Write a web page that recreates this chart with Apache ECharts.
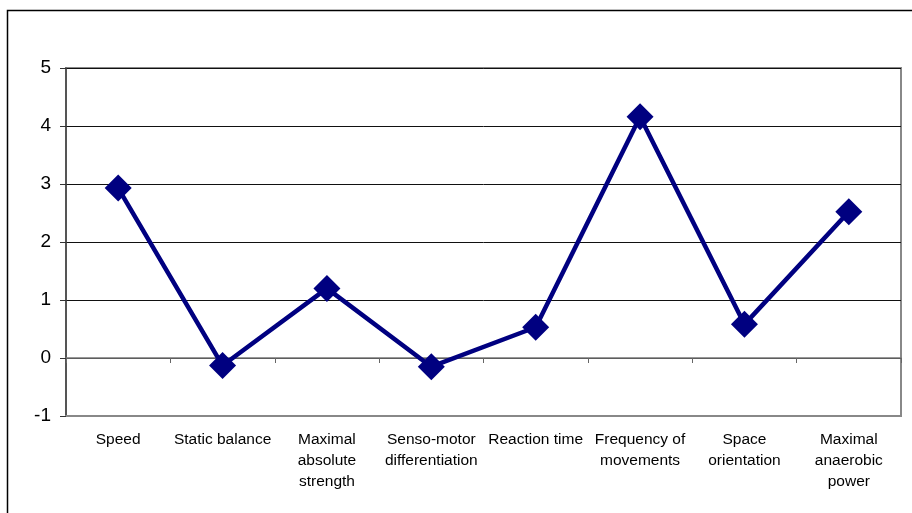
<!DOCTYPE html>
<html>
<head>
<meta charset="utf-8">
<script src="https://cdn.jsdelivr.net/npm/echarts@6/dist/echarts.min.js"></script>
<style>
  html, body { margin: 0; padding: 0; background: #fff; }
  #chart { width: 912px; height: 513px; }
</style>
</head>
<body>
<div id="chart"></div>
<script>
// Motor ability categories (line breaks as shown under the axis)
const categories = [
  'Speed',
  'Static balance',
  'Maximal\nabsolute\nstrength',
  'Senso-motor\ndifferentiation',
  'Reaction time',
  'Frequency of\nmovements',
  'Space\norientation',
  'Maximal\nanaerobic\npower'
];

// Score for each ability
const scores = [2.93, -0.13, 1.20, -0.15, 0.53, 4.16, 0.58, 2.52];

// Value axis range and step
const yMin = -1;
const yMax = 5;
const yStep = 1;

const navy = '#000080';
const font = 'Arial, "Liberation Sans", sans-serif';

const chart = echarts.init(document.getElementById('chart'), null, { renderer: 'canvas' });

chart.setOption({
  animation: false,
  backgroundColor: '#fff',
  graphic: [{
    type: 'rect',
    silent: true,
    shape: { x: 7.5, y: 10.5, width: 1000, height: 1000 },
    style: { fill: 'none', stroke: '#000', lineWidth: 1.5 }
  }],
  grid: {
    left: 66, right: 11, top: 68, bottom: 97,
    show: true,
    borderColor: '#888',
    borderWidth: 2,
    backgroundColor: '#fff'
  },
  xAxis: [{
    type: 'category',
    data: categories,
    position: 'bottom',
    boundaryGap: true,
    axisLine: { onZero: false, lineStyle: { color: '#888', width: 2 } },
    axisTick: { show: false },
    axisLabel: {
      interval: 0,
      margin: 13,
      color: '#000',
      fontFamily: font,
      fontSize: 15.5,
      lineHeight: 21,
      align: 'center'
    }
  }, {
    type: 'category',
    data: categories,
    position: 'bottom',
    boundaryGap: true,
    axisLine: { onZero: true, lineStyle: { color: '#777', width: 1.5 } },
    axisTick: { show: true, length: 5, interval: 0, lineStyle: { color: '#666', width: 1 } },
    axisLabel: { show: false }
  }],
  yAxis: {
    type: 'value',
    min: yMin,
    max: yMax,
    interval: yStep,
    axisLine: { show: true, lineStyle: { color: '#444', width: 1.5 } },
    axisTick: { show: true, length: 6, lineStyle: { color: '#333', width: 1 } },
    axisLabel: {
      margin: 15,
      color: '#000',
      fontFamily: font,
      fontSize: 19
    },
    splitLine: { show: true, lineStyle: { color: '#111', width: 1 } }
  },
  series: [{
    type: 'line',
    data: scores,
    xAxisIndex: 0,
    symbol: 'diamond',
    symbolSize: 27,
    showSymbol: true,
    lineStyle: { color: navy, width: 4.5 },
    itemStyle: { color: navy, borderColor: navy, borderWidth: 0 },
    z: 5
  }]
});
</script>
</body>
</html>
